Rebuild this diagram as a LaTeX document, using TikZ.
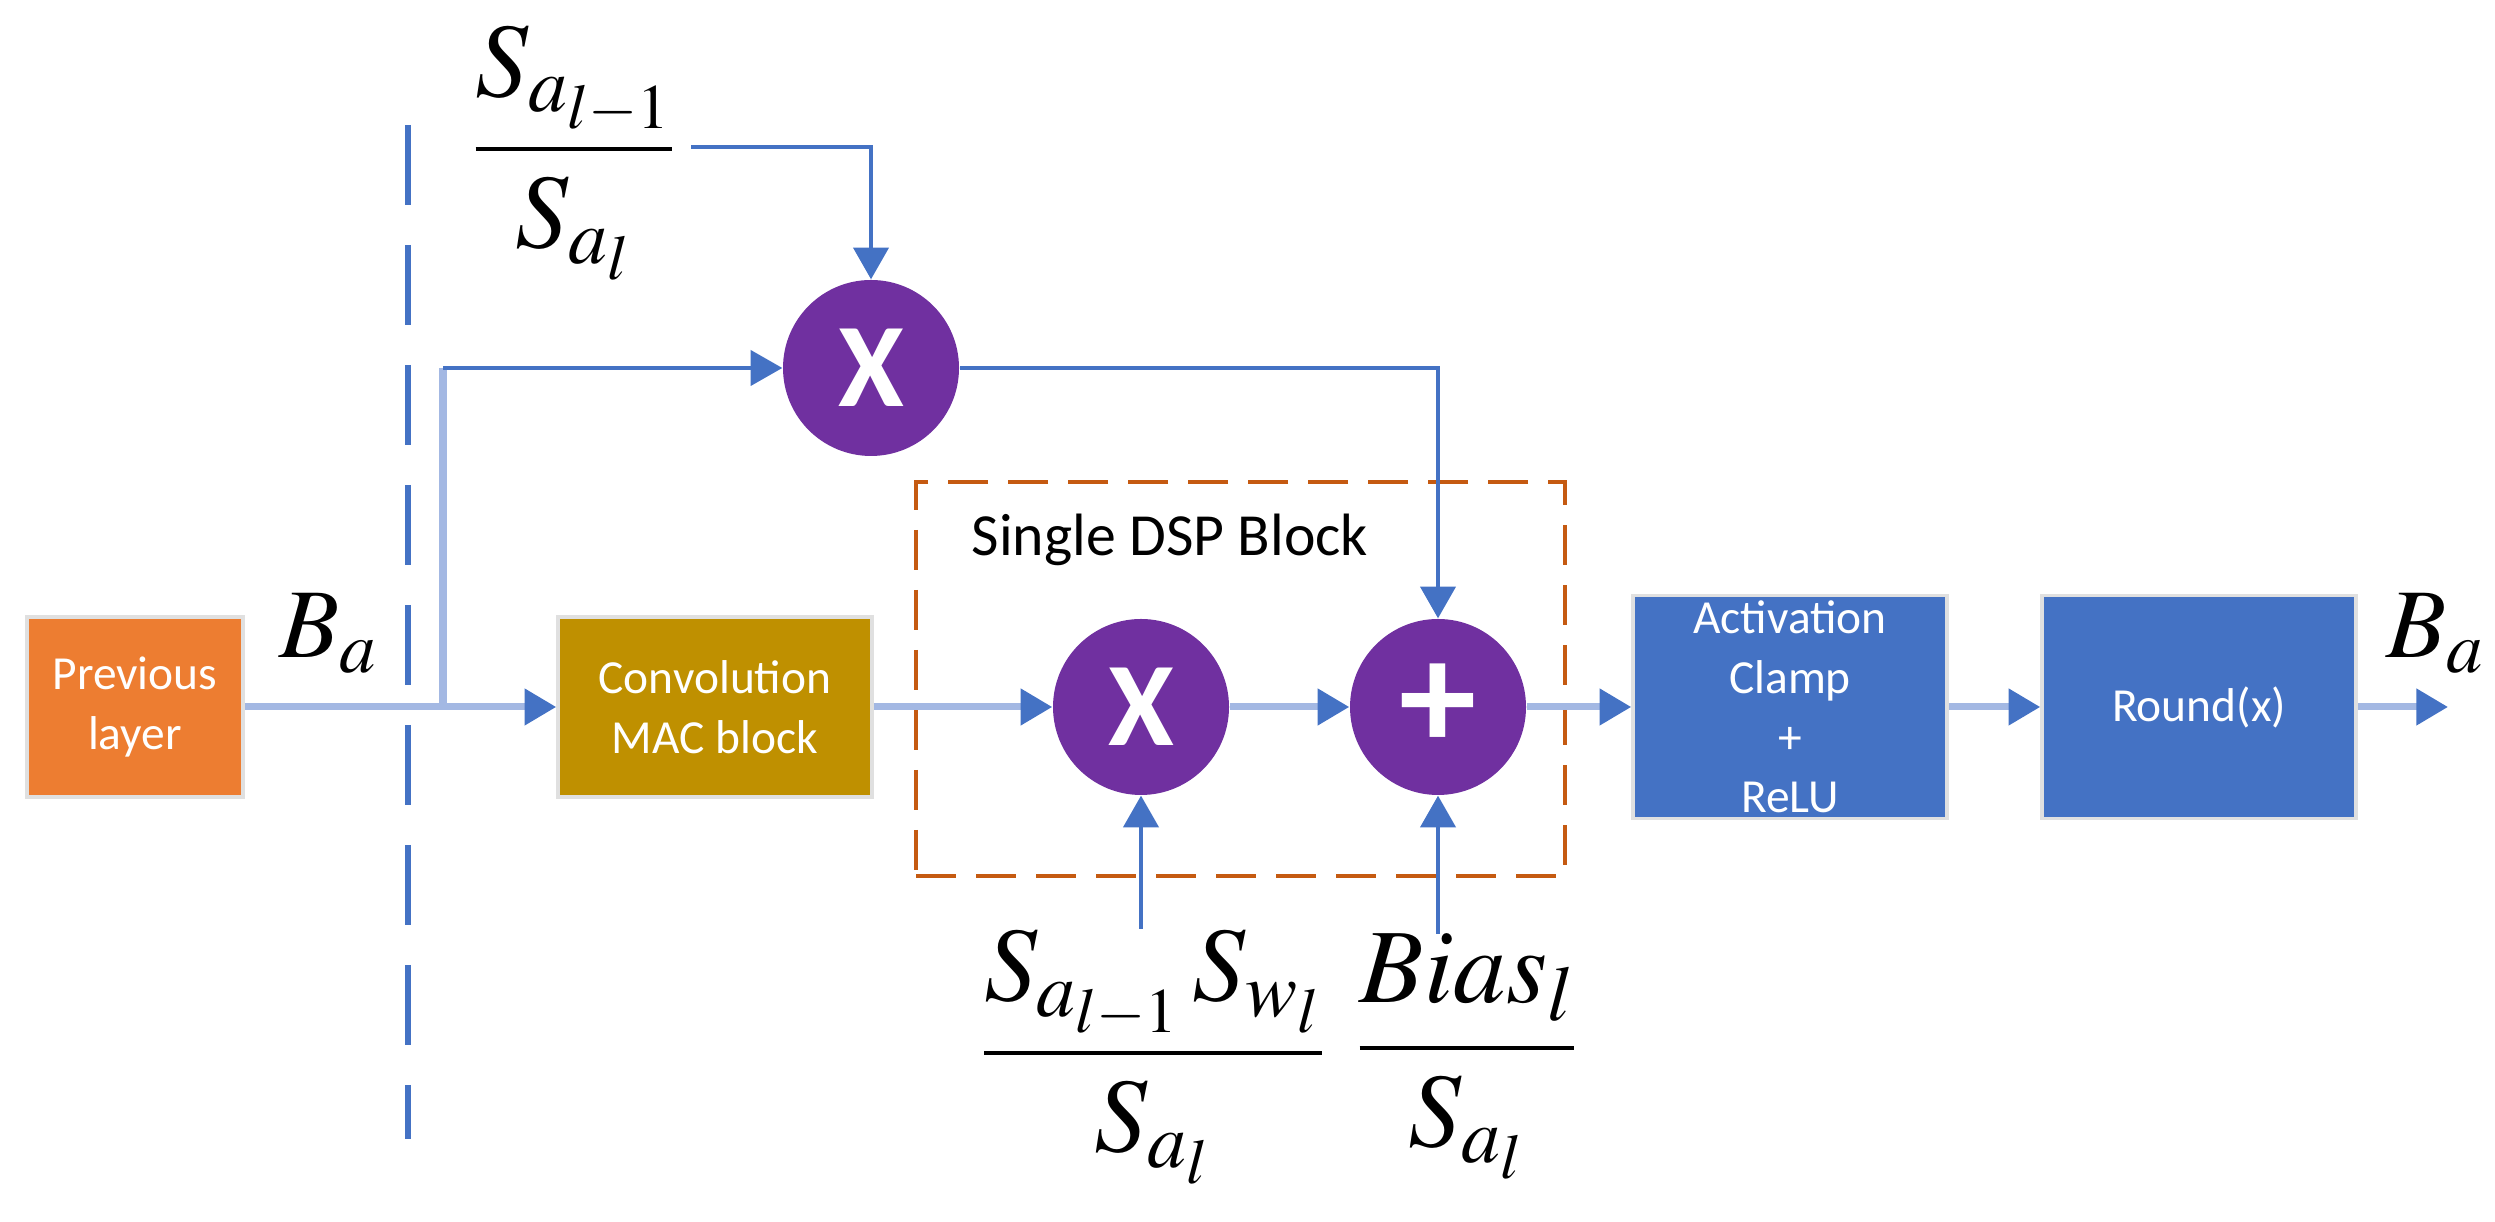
\documentclass[tikz,border=0pt]{standalone}
\usepackage{mathptmx}
\usepackage[no-math]{fontspec}
\setmainfont{Carlito}
\usetikzlibrary{arrows.meta}

\definecolor{linkblue}{RGB}{68,114,196}
\definecolor{linklight}{RGB}{163,184,227}
\definecolor{prevorange}{RGB}{237,125,49}
\definecolor{convgold}{RGB}{191,144,0}
\definecolor{oppurple}{RGB}{112,48,160}
\definecolor{dsporange}{RGB}{197,90,17}

\begin{document}
\begin{tikzpicture}[
  block/.style={rectangle, draw=black!12, line width=1pt, text=white, align=center, inner sep=0pt, font=\fontsize{13.5}{17}\selectfont},
  prevblk/.style={block, fill=prevorange, minimum width=2.16cm, minimum height=1.8cm},
  convblk/.style={block, fill=convgold, minimum width=3.14cm, minimum height=1.8cm},
  actblk/.style={block, fill=linkblue, minimum width=3.14cm, minimum height=2.23cm},
  op/.style={circle, fill=oppurple, minimum size=1.76cm, inner sep=0pt, text=white, font=\fontsize{34}{34}\selectfont\bfseries},
  coef/.style={inner sep=0pt, font=\fontsize{30}{36}\selectfont},
  bits/.style={inner sep=0pt, font=\fontsize{28}{34}\selectfont},
  flow/.style={-{Triangle[length=9pt, width=10pt, color=linkblue]}, line width=2pt, linklight},
  trunk/.style={line width=2pt, linklight},
  feed/.style={-{Triangle[length=9pt, width=10pt, color=linkblue]}, line width=1pt, linkblue},
  dspbox/.style={rectangle, draw=dsporange, line width=1.4pt, dash pattern=on 0.4cm off 0.2cm, minimum width=6.49cm, minimum height=3.94cm},
  divider/.style={linkblue, line width=1.6pt, dash pattern=on 0.8cm off 0.4cm},
]
\useasboundingbox (0,0) rectangle (24.95,12.22);

% Layer boundary
\draw[divider] (4.08, 10.97) -- (4.08, 0.83);

% Single DSP block frame
\node[dspbox] (dsp) at (12.405, 5.43) {};
\node[anchor=west, inner sep=0pt, font=\fontsize{17}{20}\selectfont] (dsptitle) at (9.71, 6.82) {Single DSP Block};

% Blocks
\node[prevblk] (prev) at (1.35, 5.15) {Previous\\layer};
\node[convblk] (conv) at (7.15, 5.15) {Convolution\\MAC block};
\node[actblk] (act) at (17.90, 5.15) {Activation\\Clamp\\+\\ReLU};
\node[actblk] (round) at (21.99, 5.15) {Round(x)};

% Operators
\node[op] (mul1) at (8.71, 8.54) {X};
\node[op] (mul2) at (11.41, 5.15) {X};
\node[op, font=\fontsize{44}{44}\selectfont\bfseries] (add) at (14.38, 5.15) {+};

% Scale factors
\node[bits, anchor=base west] (bin) at (2.79, 5.64) {$B_a$};
\node[bits, anchor=base west] (bout) at (23.86, 5.64) {$B_a$};
\node[coef] (f1) at (5.74, 10.69) {$\displaystyle\frac{S_{a_{l-1}}}{S_{a_l}}$};
\node[coef] (f2) at (11.53, 1.65) {$\displaystyle\frac{S_{a_{l-1}}\,S_{w_l}}{S_{a_l}}$};
\node[coef] (f3) at (14.67, 1.65) {$\displaystyle\frac{Bias_l}{S_{a_l}}$};

% Free ends
\coordinate (split) at (4.43, 5.15);
\coordinate (bend) at (split |- mul1);
\coordinate (t1) at (6.91, 10.75);
\coordinate (out) at (24.48, 5.15);

% Main path
\draw[flow] (prev) -- (conv);
\draw[trunk] (split) -- (bend);
\draw[feed] (bend) -- (mul1);
\draw[flow] (conv) -- (mul2);
\draw[flow] (mul2) -- (add);
\draw[flow] (add) -- (act);
\draw[flow] (act) -- (round);
\draw[flow] (round) -- (out);

% Rescaling inputs
\draw[feed] (t1) -| (mul1);
\draw[feed] (mul1) -| (add);
\draw[feed] (f2.north -| mul2) -- (mul2);
\draw[feed] (f3.north -| add) -- (add);
\end{tikzpicture}
\end{document}
